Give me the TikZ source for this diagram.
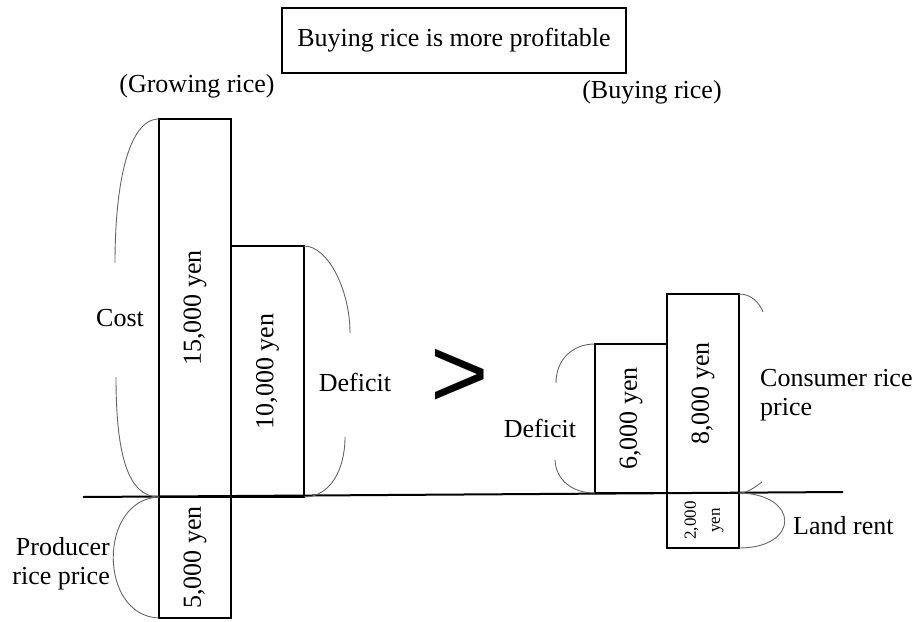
\documentclass[tikz,border=0pt]{standalone}
\usepackage{fontspec}
\setmainfont{Liberation Serif}
\newfontfamily\gtfont{Liberation Sans}
\usetikzlibrary{positioning}

\newcommand{\lblsize}{\fontsize{26}{29}\selectfont}
\newcommand{\smallsize}{\fontsize{17}{24}\selectfont}

\tikzset{ every node/.style={font=\lblsize, inner sep=0pt},
          bar/.style={draw, line width=2pt, outer sep=0pt, minimum width=72},
          brace/.style={draw=black!60, line width=0.9pt},
          axis/.style={draw, line width=2pt} }

\begin{document}
\begin{tikzpicture}[x=1pt, y=-1pt]
        \useasboundingbox (0,0) rectangle (918,621);

        \node[draw, line width=1.6pt, minimum width=344, minimum height=65] (title) at (454,40.5) {Buying rice is more profitable};
        \node (grow) at (197,86) {(Growing rice)};
        \node (buy) at (652,92) {(Buying rice)};

        \coordinate (axl) at (83,497);
        \coordinate (axr) at (843,492);
        \draw[axis] (axl) -- (axr);

        % growing rice
        \node[bar, minimum height=378, anchor=south west] (c15) at (159,497) {\rotatebox{90}{15,000 yen}};
        \node[bar, minimum width=73, minimum height=251, anchor=south west] (d10) at (c15.south east) {\rotatebox{90}{10,000 yen}};
        \node[bar, minimum height=121, anchor=north west] (p5) at (c15.south west) {\rotatebox{90}{5,000 yen}};

        % buying rice
        \node[bar, minimum height=149, anchor=south west] (d6) at (595,493) {\rotatebox{90}{6,000 yen}};
        \node[bar, minimum height=199, anchor=south west] (c8) at (d6.south east) {\rotatebox{90}{8,000 yen}};
        \node[bar, minimum height=55, anchor=north west, font=\smallsize] (r2) at (c8.south west)
            {\rotatebox{90}{\begin{tabular}{@{}c@{}}2,000\\yen\end{tabular}}};

        \node (cost) at (120,318) {Cost};
        \node (defl) at (355,382) {Deficit};
        \node[align=right, anchor=east] (prod) at (110,564) {Producer\\rice price};
        \node[font=\gtfont\fontsize{100}{100}\selectfont] (gt) at (460,378) {>};
        \node (defr) at (540,428) {Deficit};
        \node[align=left, anchor=west] (cons) at (760,395) {Consumer rice\\price};
        \node[anchor=west] (land) at (793,526) {Land rent};

        \coordinate (cost1) at (115,263);
        \coordinate (cost2) at (116,377);
        \coordinate (defl1) at (350,333);
        \coordinate (defl2) at (345,437);
        \coordinate (defr1) at (556,383);
        \coordinate (defr2) at (555,460);
        \coordinate (cons1) at (763,312);
        \coordinate (cons2) at (762,482);

        \draw[brace] (c15.north west) .. controls (128,119) and (115,185) .. (cost1);
        \draw[brace] (cost2) .. controls (116,455) and (128,497) .. (c15.south west);
        \draw[brace] (d10.north east) .. controls (328,246) and (350,290) .. (defl1);
        \draw[brace] (defl2) .. controls (345,470) and (330,497) .. (d10.south east);
        \draw[brace] (c15.south west) .. controls (98,499) and (98,616) .. (p5.south west);
        \draw[brace] (d6.north west) .. controls (572,344) and (556,360) .. (defr1);
        \draw[brace] (defr2) .. controls (556,480) and (572,493) .. (d6.south west);
        \draw[brace] (c8.north east) .. controls (751,294) and (759,302) .. (cons1);
        \draw[brace] (cons2) .. controls (755,487) and (748,493) .. (c8.south east);
        \draw[brace] (r2.north east) .. controls (800,494) and (800,548) .. (r2.south east);
    \end{tikzpicture}
\end{document}
